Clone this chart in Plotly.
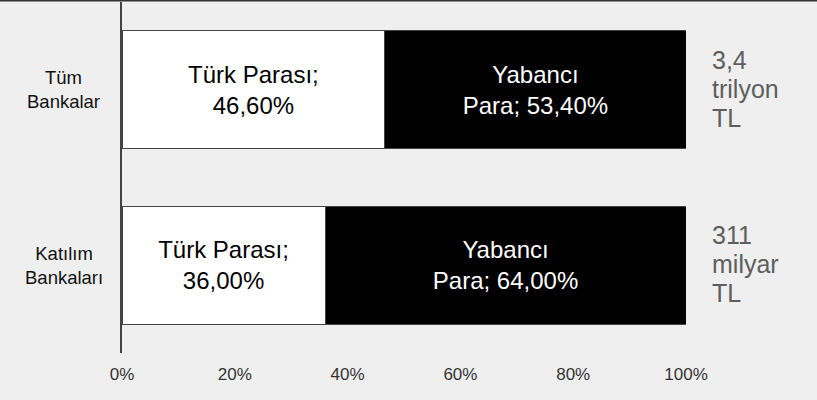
import plotly.graph_objects as go

categories = ["Tüm<br>Bankalar", "Katılım<br>Bankaları"]
turk_parasi = [46.60, 36.00]
yabanci_para = [53.40, 64.00]
totals = ["3,4 trilyon TL", "311 milyar TL"]
tick_vals = [0, 20, 40, 60, 80, 100]
tick_text = [f"{v}%" for v in tick_vals]

def fmt(v):
    return f"{v:.2f}".replace(".", ",") + "%"

FONT = "Liberation Sans, Arial, Helvetica, sans-serif"
BG = "#efefef"

fig = go.Figure()
fig.add_trace(go.Bar(
    y=categories, x=turk_parasi, orientation="h",
    marker=dict(color="white", line=dict(color="#444", width=1)),
    text=[f"Türk Parası;<br>{fmt(v)}" for v in turk_parasi],
    textposition="inside", insidetextanchor="middle", constraintext="none",
    textfont=dict(color="#000", size=24, family=FONT),
    hoverinfo="skip", width=0.67,
))
fig.add_trace(go.Bar(
    y=categories, x=yabanci_para, orientation="h",
    marker=dict(color="black", line=dict(color="#444", width=1)),
    text=[f"Yabancı<br>Para; {fmt(v)}" for v in yabanci_para],
    textposition="inside", insidetextanchor="middle", constraintext="none",
    textfont=dict(color="white", size=24, family=FONT),
    hoverinfo="skip", width=0.67,
))

for cat, tot in zip(categories, totals):
    fig.add_annotation(x=-0.103, xref="paper", y=cat, yref="y", text=cat,
                       showarrow=False, xanchor="center", align="center",
                       font=dict(size=18.5, color="#111", family=FONT))
    lines = tot.split(" ")
    n = len(lines)
    for i, line in enumerate(lines):
        fig.add_annotation(x=1.042, xref="paper", y=cat, yref="y", text=line,
                           showarrow=False, xanchor="left", align="left",
                           yshift=((n - 1) / 2 - i) * 29 + 1,
                           font=dict(size=25, color="#5e5e5e", family=FONT))

fig.add_shape(type="line", xref="paper", yref="paper", x0=-0.3, x1=1.3,
              y0=1.0045, y1=1.0045, line=dict(color="#333", width=2))

fig.update_layout(
    width=817, height=400,
    margin=dict(l=122, r=131, t=2, b=47),
    paper_bgcolor=BG, plot_bgcolor=BG,
    barmode="stack", showlegend=False,
    xaxis=dict(range=[0, 100], tickmode="array", tickvals=tick_vals, ticktext=tick_text,
               showgrid=False, zeroline=False, showline=False,
               ticks="", ticklabelstandoff=9,
               tickfont=dict(size=17, color="#333", family=FONT)),
    yaxis=dict(showticklabels=False, showgrid=False,
               zeroline=False, showline=True, linecolor="#444", linewidth=1.5,
               ticks="", range=[1.5, -0.5]),
)

fig.write_html("out.html", config={"displayModeBar": False},
               post_script="document.body.style.margin='0';document.body.style.padding='0';")
